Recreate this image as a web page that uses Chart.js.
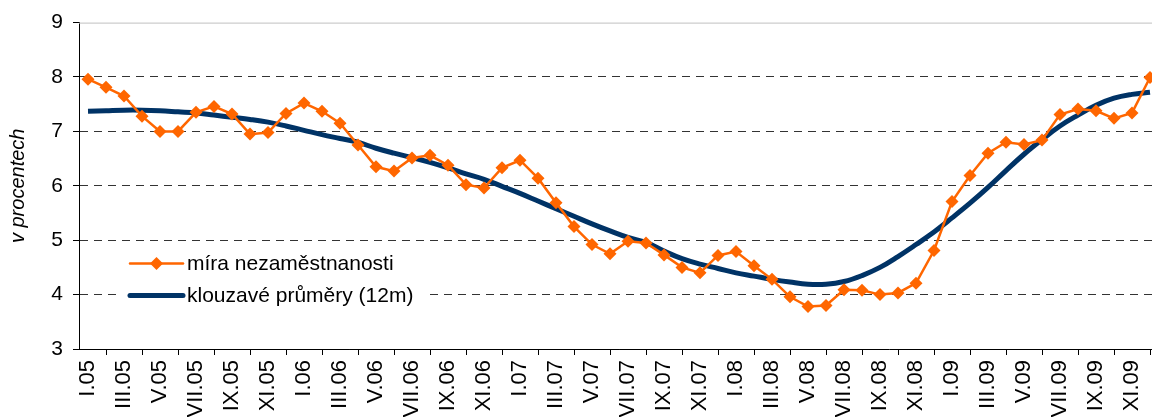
<!DOCTYPE html>
<html lang="cs">
<head>
    <meta charset="UTF-8">
    <title>Míra nezaměstnanosti</title>
    <style>
        html, body {
            margin: 0;
            padding: 0;
            background: #fff;
            overflow: hidden;
        }

        .wrap {
            width: 1170px;
            height: 417px;
        }
    </style>
</head>

<body>
    <div class="wrap"><canvas id="chart" width="1170" height="417"></canvas></div>

    <script src="https://cdn.jsdelivr.net/npm/chart.js"></script>
    <script>
        // měsíce I.05 .. XII.09
        const months = ['I', 'II', 'III', 'IV', 'V', 'VI', 'VII', 'VIII', 'IX', 'X', 'XI', 'XII'];
        const years = ['05', '06', '07', '08', '09'];
        const labels = [];
        years.forEach(y => months.forEach(m => labels.push(m + '.' + y)));

        // míra nezaměstnanosti (%)
        const rate = [
            7.96, 7.81, 7.65, 7.28, 7.00, 7.00, 7.35, 7.46, 7.32, 6.95, 6.98, 7.33,
            7.52, 7.37, 7.15, 6.75, 6.35, 6.27, 6.51, 6.56, 6.38, 6.02, 5.96, 6.33,
            6.47, 6.14, 5.69, 5.25, 4.92, 4.75, 4.98, 4.95, 4.73, 4.50, 4.40, 4.72,
            4.79, 4.53, 4.28, 3.96, 3.78, 3.80, 4.09, 4.08, 4.00, 4.03, 4.21, 4.81,
            5.71, 6.19, 6.60, 6.80, 6.76, 6.84, 7.31, 7.41, 7.38, 7.24, 7.34, 7.99
        ];

        // klouzavé průměry (12m)
        const movingAvg = [
            7.37, 7.38, 7.39, 7.39, 7.38, 7.36, 7.34, 7.30, 7.26, 7.22, 7.17, 7.10,
            7.02, 6.94, 6.87, 6.80, 6.69, 6.60, 6.52, 6.43, 6.33, 6.22, 6.12, 5.99,
            5.86, 5.72, 5.58, 5.44, 5.30, 5.17, 5.05, 4.96, 4.80, 4.66, 4.56, 4.48,
            4.40, 4.34, 4.28, 4.23, 4.19, 4.19, 4.24, 4.35, 4.50, 4.70, 4.92, 5.15,
            5.41, 5.68, 5.97, 6.28, 6.58, 6.85, 7.10, 7.30, 7.48, 7.61, 7.68, 7.72
        ];

        const seriesNames = ['míra nezaměstnanosti', 'klouzavé průměry (12m)'];
        const orange = '#FF6600';
        const navy = '#003366';
        const font = "'Liberation Sans', Arial, sans-serif";

        Chart.defaults.font.family = font;
        Chart.defaults.color = '#000';

        // horní okraj grafu + bílé pozadí legendy
        const topBorder = {
            id: 'topBorder',
            beforeDatasetsDraw(chart) {
                const { ctx, chartArea: a } = chart;
                ctx.save();
                ctx.strokeStyle = '#c0c0c0';
                ctx.lineWidth = 1;
                ctx.beginPath();
                ctx.moveTo(a.left, a.top + 0.5);
                ctx.lineTo(a.right, a.top + 0.5);
                ctx.stroke();
                ctx.fillStyle = '#fff';
                ctx.fillRect(a.left + 41, a.top + 225, 310, 66);
                ctx.restore();
            }
        };

        // legenda uvnitř grafu
        const inlineLegend = {
            id: 'inlineLegend',
            afterDatasetsDraw(chart) {
                const { ctx, chartArea: a } = chart;
                const x0 = a.left + 51, len = 53;
                const y1 = a.top + 241, y2 = a.top + 273;
                ctx.save();
                ctx.lineCap = 'round';
                ctx.strokeStyle = orange;
                ctx.lineWidth = 2.5;
                ctx.beginPath();
                ctx.moveTo(x0, y1);
                ctx.lineTo(x0 + len, y1);
                ctx.stroke();
                ctx.fillStyle = orange;
                ctx.beginPath();
                const cx = x0 + len / 2, r = 6.5;
                ctx.moveTo(cx, y1 - r);
                ctx.lineTo(cx + r, y1);
                ctx.lineTo(cx, y1 + r);
                ctx.lineTo(cx - r, y1);
                ctx.closePath();
                ctx.fill();

                ctx.strokeStyle = navy;
                ctx.lineWidth = 5;
                ctx.beginPath();
                ctx.moveTo(x0, y2);
                ctx.lineTo(x0 + len, y2);
                ctx.stroke();

                ctx.fillStyle = '#000';
                ctx.font = '21px ' + font;
                ctx.textBaseline = 'middle';
                ctx.fillText(seriesNames[0], x0 + len + 4, y1 + 1);
                ctx.fillText(seriesNames[1], x0 + len + 4, y2 + 1);
                ctx.restore();
            }
        };

        const ctx = document.getElementById('chart').getContext('2d');

        new Chart(ctx, {
            type: 'line',
            data: {
                labels: labels,
                datasets: [{
                    label: seriesNames[0],
                    data: rate,
                    borderColor: orange,
                    backgroundColor: orange,
                    borderWidth: 2.5,
                    pointStyle: 'rectRot',
                    pointRadius: 6.5,
                    pointBorderWidth: 0,
                    pointBackgroundColor: orange,
                    tension: 0
                }, {
                    label: seriesNames[1],
                    data: movingAvg,
                    borderColor: navy,
                    borderWidth: 5,
                    pointRadius: 0,
                    tension: 0.4
                }]
            },
            options: {
                responsive: false,
                animation: false,
                devicePixelRatio: 1,
                layout: { padding: { top: 21, right: 11, left: 0, bottom: 0 } },
                plugins: {
                    legend: { display: false },
                    tooltip: { enabled: false }
                },
                scales: {
                    x: {
                        offset: true,
                        grid: {
                            display: true,
                            drawOnChartArea: false,
                            offset: true,
                            tickLength: 6,
                            tickColor: '#000',
                            color: '#000'
                        },
                        border: { color: '#000', width: 1 },
                        ticks: {
                            autoSkip: false,
                            maxRotation: 90,
                            minRotation: 90,
                            padding: 5,
                            font: { size: 22 },
                            color: '#000',
                            callback: (v, i) => i % 2 === 0 ? labels[i] : null
                        },
                        afterFit(s) { s.height = 68; }
                    },
                    y: {
                        min: 3,
                        max: 9,
                        ticks: { stepSize: 1, padding: 10, font: { size: 21 }, color: '#000' },
                        grid: {
                            color: c => c.tick && c.tick.value === 9 ? 'rgba(0,0,0,0)' : '#333',
                            tickColor: '#000',
                            tickLength: 6
                        },
                        border: { color: '#000', width: 1, dash: [8, 6] },
                        title: {
                            display: true,
                            text: 'v procentech',
                            font: { size: 20, style: 'italic' },
                            color: '#000',
                            padding: { top: 6, bottom: 0 }
                        },
                        afterFit(s) { s.width = 79; }
                    }
                }
            },
            plugins: [topBorder, inlineLegend]
        });
    </script>
</body>

</html>
